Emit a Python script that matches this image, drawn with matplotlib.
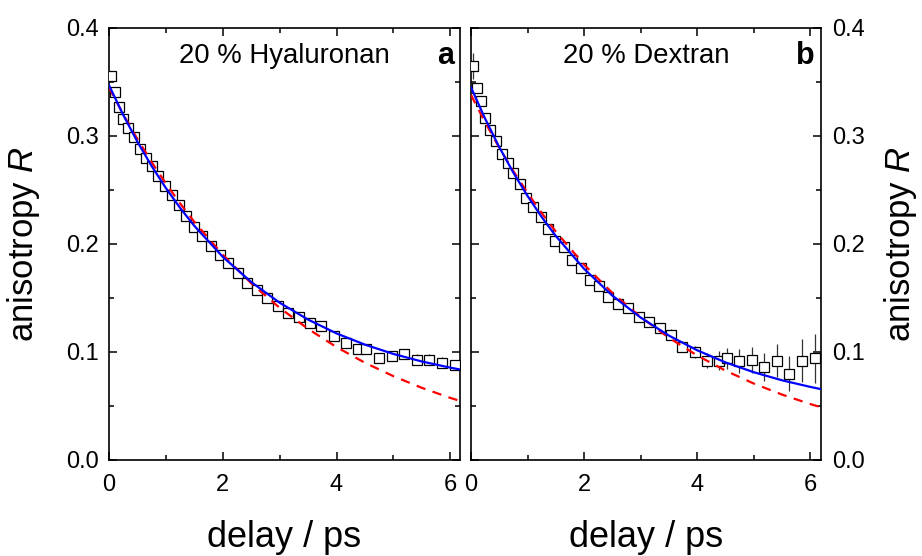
import numpy as np
import matplotlib
matplotlib.use('Agg')
import matplotlib.pyplot as plt
from matplotlib.ticker import MultipleLocator

# --------------------------------------------------
# Data
# --------------------------------------------------
delay = [0.03, 0.10, 0.17, 0.25, 0.34, 0.44, 0.54, 0.65, 0.75, 0.87,
         0.98, 1.10, 1.23, 1.36, 1.49, 1.64, 1.79, 1.95, 2.10, 2.26,
         2.43, 2.60, 2.78, 2.97, 3.15, 3.34, 3.54, 3.73, 3.96, 4.17,
         4.38, 4.52, 4.74, 4.97, 5.19, 5.41, 5.62, 5.85, 6.08]

# 20 % Hyaluronan
aniso_a = [0.356, 0.341, 0.327, 0.316, 0.307, 0.299, 0.288, 0.280, 0.272, 0.263,
           0.254, 0.245, 0.236, 0.226, 0.216, 0.207, 0.198, 0.190, 0.182, 0.173,
           0.164, 0.157, 0.150, 0.143, 0.136, 0.132, 0.127, 0.124, 0.115, 0.108,
           0.103, 0.103, 0.094, 0.096, 0.098, 0.093, 0.093, 0.090, 0.088]
err_a = [0.003, 0.002, 0.002, 0.002, 0.002, 0.002, 0.002, 0.002, 0.002, 0.002,
         0.002, 0.002, 0.002, 0.002, 0.002, 0.002, 0.002, 0.002, 0.002, 0.002,
         0.002, 0.003, 0.003, 0.003, 0.003, 0.003, 0.003, 0.003, 0.004, 0.004,
         0.004, 0.004, 0.004, 0.004, 0.004, 0.005, 0.005, 0.005, 0.005]

# 20 % Dextran
aniso_b = [0.365, 0.344, 0.332, 0.317, 0.306, 0.295, 0.283, 0.275, 0.266, 0.256,
           0.243, 0.234, 0.225, 0.214, 0.203, 0.197, 0.185, 0.178, 0.167, 0.161,
           0.151, 0.144, 0.141, 0.132, 0.128, 0.122, 0.116, 0.105, 0.100, 0.092,
           0.092, 0.094, 0.092, 0.093, 0.086, 0.092, 0.080, 0.092, 0.094]
err_b = [0.012, 0.004, 0.003, 0.003, 0.003, 0.003, 0.003, 0.003, 0.003, 0.003,
         0.003, 0.003, 0.003, 0.003, 0.003, 0.003, 0.003, 0.003, 0.003, 0.003,
         0.003, 0.003, 0.003, 0.004, 0.004, 0.004, 0.005, 0.005, 0.006, 0.007,
         0.009, 0.010, 0.011, 0.012, 0.013, 0.015, 0.016, 0.020, 0.023]

# fit curves
fit_t = [0.0, 0.25, 0.5, 0.75, 1.0, 1.25, 1.5, 2.0, 2.5, 3.0, 3.5,
         4.0, 4.5, 5.0, 5.5, 6.0, 6.2]
blue_a = [0.347, 0.3195, 0.2946, 0.2721, 0.2518, 0.2334, 0.2168, 0.1881, 0.1648,
          0.1456, 0.1300, 0.1172, 0.1068, 0.0982, 0.0912, 0.0855, 0.0835]
red_a = [0.345, 0.320, 0.2971, 0.2758, 0.256, 0.2376, 0.2205, 0.190, 0.1636,
         0.1409, 0.1214, 0.1045, 0.090, 0.0776, 0.0668, 0.0575, 0.0542]
blue_b = [0.345, 0.316, 0.2897, 0.266, 0.2445, 0.225, 0.2074, 0.177, 0.1522,
          0.1319, 0.1152, 0.1016, 0.0904, 0.0813, 0.0738, 0.0677, 0.0655]
red_b = [0.338, 0.3127, 0.2891, 0.2674, 0.2473, 0.2287, 0.2115, 0.1809, 0.1547,
         0.1324, 0.1132, 0.0968, 0.0828, 0.0708, 0.0606, 0.0518, 0.0487]

yticks = [0.0, 0.1, 0.2, 0.3, 0.4]
ytick_labels = ['0.0', '0.1', '0.2', '0.3', '0.4']
xticks = [0, 2, 4, 6]

# --------------------------------------------------
# Plot settings
# --------------------------------------------------
plt.rcParams.update({
    'font.family': 'Liberation Sans',
    'mathtext.fontset': 'custom',
    'mathtext.rm': 'Liberation Sans',
    'mathtext.it': 'Liberation Sans:italic',
    'axes.linewidth': 1.2,
})

fig = plt.figure(figsize=(9.22, 5.56), dpi=100)
W, H = 922, 556
ax_a = fig.add_axes([109 / W, 96 / H, 351 / W, 432 / H])
ax_b = fig.add_axes([471 / W, 96 / H, 350 / W, 432 / H])

panels = [
    (ax_a, aniso_a, err_a, blue_a, red_a, '20 % Hyaluronan', 'a', 6.17, 'left'),
    (ax_b, aniso_b, err_b, blue_b, red_b, '20 % Dextran', 'b', 6.19, 'right'),
]

for ax, y, yerr, blue, red, title, letter, xmax, side in panels:
    ax.errorbar(delay, y, yerr=yerr, fmt='none', ecolor='#333333',
                elinewidth=0.9, capsize=0, zorder=2)
    ax.plot(delay, y, 's', ms=7, mfc='white', mec='black', mew=0.9, zorder=3)
    ax.plot(fit_t, red, color='#ff0000', lw=1.6, dashes=(4.2, 3.4), zorder=4)
    ax.plot(fit_t, blue, color='#0000ff', lw=1.6, zorder=5)

    ax.set_xlim(0, xmax)
    ax.set_ylim(0, 0.4)
    ax.xaxis.set_minor_locator(MultipleLocator(1))
    ax.yaxis.set_minor_locator(MultipleLocator(0.05))
    ax.tick_params(which='both', direction='in', top=True, right=True,
                   left=True, bottom=True, width=1.1, labelsize=17)
    ax.tick_params(which='major', length=6)
    ax.tick_params(which='minor', length=3.5)
    ax.tick_params(axis='x', pad=10)
    ax.set_xticks(xticks)
    ax.set_xticklabels([str(t) for t in xticks])
    ax.set_yticks(yticks)
    ax.set_yticklabels(ytick_labels)

    if side == 'left':
        ax.tick_params(axis='y', labelleft=True, labelright=False, pad=7)
        ax.set_ylabel('anisotropy $\\mathit{R}$', fontsize=25, va='center')
        ax.yaxis.set_label_coords(-0.245, 0.5)
    else:
        ax.tick_params(axis='y', labelleft=False, labelright=True, pad=8)
        ax.yaxis.set_label_position('right')
        ax.set_ylabel('anisotropy $\\mathit{R}$', fontsize=25, va='center',
                      rotation=90)
        ax.yaxis.set_label_coords(1.226, 0.5)

    ax.set_xlabel('delay / ps', fontsize=26, va='center')
    ax.xaxis.set_label_coords(0.5, -0.18)

    ax.text(0.5, 0.935, title, transform=ax.transAxes, ha='center',
            va='center', fontsize=19.8)
    ax.text(0.982, 0.935, letter, transform=ax.transAxes, ha='right',
            va='center', fontsize=22, fontweight='bold')

fig.savefig('out.png', dpi=100)
